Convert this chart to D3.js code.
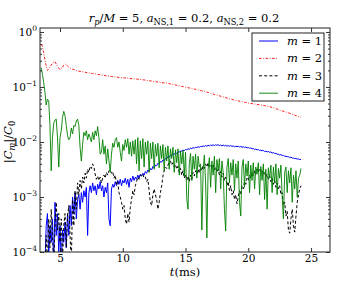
<!DOCTYPE html>
<html>
<head>
<meta charset="utf-8">
<script src="https://cdn.jsdelivr.net/npm/d3@7"></script>
<style>
body { margin: 0; background: #fff; }
</style>
</head>
<body>
<div class="chart"></div>
<script>
// sampling of the m=1,3,4 curves (ms)
const tStep = 0.1;
const m4Start = 3.5;
const m4 = [
 0.225,0.17,0.12,0.08,0.047,0.06,0.055,0.02,0.003,0.012,0.022,0.025,0.026,0.012,0.0035,
 0.012,0.016,0.028,0.036,0.03,0.02,0.013,0.011,0.012,0.018,
 0.014,0.02,0.019,0.024,0.026,0.02,0.008,0.0045,0.009,0.015,
 0.013,0.016,0.011,0.014,0.012,0.01,0.015,0.011,0.016,0.013,
 0.019,0.012,0.006,0.0065,0.011,0.006,0.0085,0.004,0.0075,0.0045,
 0.0028,0.006,0.0095,0.008,0.011,0.012,0.008,0.01,0.0065,0.0045,
 0.009,0.007,0.011,0.008,0.0115,0.006,0.01,0.0055,0.0105,0.006,
 0.011,0.004,0.012,0.003,0.0105,0.005,0.0115,0.0035,0.01,0.006,
 0.0105,0.0028,0.0095,0.005,0.01,0.0032,0.009,0.0055,0.0095,0.0034,
 0.0085,0.005,0.009,0.003,0.008,0.0045,0.0085,0.0032,0.0075,0.005,
 0.008,0.0028,0.0072,0.0042,0.0075,0.0025,0.0068,0.004,0.007,0.0024,
 0.0065,0.0009,0.0006,0.004,0.0062,0.002,0.0055,0.0032,0.006,0.0022,
 0.0055,0.0035,0.004,0.00025,0.003,0.0058,0.0018,0.00018,0.0032,0.0052,
 0.0015,0.0045,0.0025,0.0055,0.0012,0.0048,0.003,0.005,0.0014,0.0045,
 0.0028,0.0006,0.00024,0.0035,0.005,0.0018,0.0042,0.0025,0.0048,0.0013,
 0.004,0.0022,0.0045,0.0008,0.00045,0.0035,0.0048,0.0015,0.004,0.0024,
 0.0045,0.0012,0.0038,0.002,0.0042,0.0014,0.0035,0.0026,0.0042,0.0011,
 0.0036,0.002,0.004,0.0009,0.0032,0.0006,0.0034,0.0022,0.0038,0.0012,
 0.0035,0.0018,0.004,0.0011,0.0033,0.0022,0.0038,0.001,0.0004,0.0028,
 0.0035,0.0012,0.003,0.0018,0.0034,0.0008,0.0025,0.0014,0.003,0.001,
 0.0022,0.0025,0.0033
];

const m1Start = 3.8;
const m1 = [
 6e-5,3e-4,
 5e-4,8e-5,3e-4,1.5e-4,4e-4,6e-5,8e-4,2e-4,5e-4,1e-4,
 3e-4,6e-5,2.5e-4,1.5e-4,3.5e-4,1.2e-4,5e-4,2e-4,7e-4,3e-4,
 1e-3,5e-4,1.2e-3,4e-4,9e-4,1.1e-3,6e-4,1.2e-3,8e-4,1.3e-3,
 1e-3,1.5e-3,2e-4,1.2e-3,1.6e-3,1.2e-3,1.8e-3,1.3e-3,1.6e-3,1.1e-3,
 1.7e-3,1.4e-3,1.9e-3,1.3e-3,1.6e-3,1e-3,1.5e-3,1.2e-3,1.8e-3,4e-4,
 3e-4,1.4e-3,1.7e-3,1.5e-3,1.9e-3,1.6e-3,2e-3,1.7e-3,2.1e-3,1.6e-3,
 2e-3,1.8e-3,2.2e-3,1.7e-3,2.1e-3,1.5e-3,2.2e-3,1.9e-3,2.4e-3,2e-3,
 2.3e-3,2.1e-3,2.5e-3,2.2e-3,2.6e-3,2.4e-3,2.7e-3,2.5e-3,2.9e-3,2.7e-3,
 3.1e-3,2.9e-3,3.3e-3,3.1e-3,3.6e-3,3.4e-3,3.8e-3,3.7e-3,4.1e-3,4e-3,
 4.4e-3,4.3e-3,4.7e-3,4.6e-3,5e-3,5e-3,5.4e-3,5.3e-3,5.7e-3,5.7e-3,
 6e-3,6e-3,6.3e-3,6.2e-3,6.6e-3,6.5e-3,6.9e-3,6.8e-3,7.1e-3,7e-3,
 7.3e-3,7.2e-3,7.5e-3,7.4e-3,7.7e-3,7.6e-3,7.9e-3,7.7e-3,8e-3,7.9e-3,
 8.2e-3,8e-3,8.3e-3,8.2e-3,8.5e-3,8.3e-3,8.6e-3,8.4e-3,8.7e-3,8.5e-3,
 8.8e-3,8.6e-3,8.9e-3,8.6e-3,8.9e-3,8.7e-3,8.9e-3,8.6e-3,8.8e-3,8.5e-3,
 8.8e-3,8.5e-3,8.7e-3,8.4e-3,8.6e-3,8.4e-3,8.6e-3,8.3e-3,8.5e-3,8.2e-3,
 8.4e-3,8.2e-3,8.4e-3,8.1e-3,8.3e-3,8e-3,8.2e-3,7.9e-3,8.1e-3,7.8e-3,
 7.9e-3,7.7e-3,7.8e-3,7.5e-3,7.6e-3,7.3e-3,7.4e-3,7.2e-3,7.3e-3,7e-3,
 7.1e-3,6.9e-3,7e-3,6.7e-3,6.8e-3,6.6e-3,6.7e-3,6.5e-3,6.6e-3,6.3e-3,
 6.4e-3,6.2e-3,6.2e-3,6e-3,6e-3,5.8e-3,5.9e-3,5.7e-3,5.7e-3,5.5e-3,
 5.5e-3,5.4e-3,5.4e-3,5.2e-3,5.3e-3,5.1e-3,5.1e-3,5e-3,5e-3,4.9e-3,
 4.9e-3,4.8e-3,4.8e-3
];

const m3Start = 3.8;
const m3 = [
 5e-5,2e-4,
 6e-5,4e-4,1.2e-4,6e-4,2e-4,5e-5,3e-4,8e-4,2.5e-4,5e-4,
 1.5e-4,4e-4,7e-5,3e-4,5e-4,1.2e-4,4.5e-4,7e-4,2e-4,6e-5,
 9e-4,3e-4,1.3e-3,6e-4,1.8e-3,1.1e-3,2e-3,1.4e-3,2.3e-3,1.8e-3,
 2.7e-3,2.2e-3,3.2e-3,2.8e-3,3.6e-3,3.3e-3,4e-3,3.5e-3,2.6e-3,2.1e-3,
 2.4e-3,2e-3,2.3e-3,1.8e-3,2.2e-3,2.5e-3,2.2e-3,2.8e-3,2.5e-3,3e-3,
 3.1e-3,2.7e-3,2.9e-3,2.2e-3,2.5e-3,1.7e-3,1.9e-3,1.2e-3,1e-3,8e-4,
 6e-4,7e-4,4e-4,3.2e-4,5e-4,3.5e-4,6.5e-4,9e-4,1.3e-3,1.1e-3,
 1.6e-3,1.9e-3,2.3e-3,2.1e-3,2.5e-3,2.4e-3,2.6e-3,2.2e-3,2.3e-3,1.9e-3,
 2.1e-3,1.3e-3,8e-4,7e-4,1.1e-3,1.4e-3,1.1e-3,9e-4,6e-4,8e-4,
 1.2e-3,1.6e-3,2.4e-3,3e-3,3.5e-3,3.3e-3,3.8e-3,4.3e-3,4.5e-3,3.8e-3,
 4.2e-3,3.5e-3,3.9e-3,3.2e-3,3.6e-3,2.8e-3,3.3e-3,2.5e-3,3e-3,2.2e-3,
 2.6e-3,2e-3,2.4e-3,1.9e-3,2.5e-3,2.1e-3,2.8e-3,2.4e-3,3e-3,2.6e-3,
 3.2e-3,2.7e-3,3.5e-3,3e-3,3.7e-3,3.3e-3,4e-3,3.5e-3,4.2e-3,3.6e-3,
 3.9e-3,3.4e-3,3.8e-3,3.1e-3,3.5e-3,2.8e-3,3.2e-3,2.5e-3,2.9e-3,2.3e-3,
 2.7e-3,2e-3,2.3e-3,1.6e-3,1.9e-3,1.3e-3,1.6e-3,1.1e-3,1.3e-3,9e-4,
 1.1e-3,7.5e-4,1e-3,1.3e-3,1.1e-3,1.6e-3,1.4e-3,1.9e-3,1.7e-3,2.2e-3,
 2e-3,2.5e-3,2.2e-3,2.8e-3,2.4e-3,3e-3,2.6e-3,3.2e-3,2.8e-3,3.3e-3,
 2.9e-3,3.1e-3,2.6e-3,2.8e-3,2.3e-3,2.6e-3,2.1e-3,2.4e-3,1.9e-3,2.2e-3,
 1.7e-3,2e-3,1.5e-3,1.8e-3,1.4e-3,1.6e-3,1.1e-3,1.2e-3,7e-4,8e-4,
 4.5e-4,5.5e-4,2.5e-4,2.2e-4,4e-4,6e-4,3e-4,2.3e-4,4.5e-4,8e-4,
 1.1e-3,1.4e-3,1.6e-3
];

// m=2 is smooth, read at its own times
const m2T = [3.55,3.7,3.85,4.0,4.15,4.3,4.45,4.6,4.75,4.9,5.0,5.15,5.3,5.45,5.6,5.8,6.0,6.2,6.4,6.7,
 7.0,7.3,7.6,8.0,8.3,8.7,9.1,9.5,10.0,10.5,11.0,11.5,12.0,12.5,13.0,13.5,14.0,14.5,15.0,15.5,
 16.0,16.5,17.0,17.5,18.0,18.5,19.0,19.5,20.0,20.5,21.0,21.5,22.0,22.5,23.0,23.5,24.0,24.2];
const m2 = [0.6,0.42,0.27,0.2,0.22,0.25,0.28,0.29,0.25,0.22,0.205,0.22,0.25,0.26,0.24,0.22,0.21,0.205,0.195,0.19,
 0.185,0.18,0.176,0.17,0.165,0.16,0.155,0.151,0.147,0.143,0.14,0.136,0.131,0.126,0.121,0.117,0.111,0.105,0.099,0.094,
 0.088,0.083,0.077,0.071,0.066,0.061,0.057,0.054,0.051,0.049,0.047,0.045,0.042,0.038,0.035,0.032,0.029,0.028];

const xTicks = [5, 10, 15, 20, 25];
const yExps = [0, -1, -2, -3, -4];
const legendLabels = ["1", "2", "3", "4"];

const FONT = "DejaVu Serif";
const W = 349, H = 281;
const L = 40, R = 330, T = 28, B = 252;

const svg = d3.select(".chart").append("svg")
  .attr("width", W).attr("height", H)
  .style("font-family", FONT);

const x = d3.scaleLinear().domain([3.406, 26.51]).range([L, R]);
const y = d3.scaleLog().domain([1e-4, 1.18]).range([B, T]);

const uniform = (vals, t0) => vals.map((v, i) => ({t: t0 + i * tStep, v: v}));
const series = [
  {pts: uniform(m1, m1Start), color: "#0000ff", w: 1, dash: null},
  {pts: m2T.map((t, i) => ({t: t, v: m2[i]})), color: "#ff0000", w: 0.9, dash: "2.5,1.6,0.8,1.6"},
  {pts: uniform(m3, m3Start), color: "#000000", w: 1, dash: "3,2.2"},
  {pts: uniform(m4, m4Start), color: "#008000", w: 0.9, dash: null}
];

svg.append("clipPath").attr("id", "clip")
  .append("rect").attr("x", L).attr("y", T).attr("width", R - L).attr("height", B - T);

const line = d3.line().x(d => x(d.t)).y(d => y(d.v));

svg.append("g").attr("clip-path", "url(#clip)")
  .selectAll("path").data(series).enter().append("path")
  .attr("d", d => line(d.pts))
  .attr("fill", "none")
  .attr("stroke", d => d.color)
  .attr("stroke-width", d => d.w)
  .attr("stroke-dasharray", d => d.dash)
  .attr("stroke-linejoin", "round");

// ticks, inward on all four sides
const minor = [];
yExps.slice(1).forEach(e => { for (let k = 2; k <= 9; k++) minor.push(k * Math.pow(10, e)); });
const major = yExps.map(e => Math.pow(10, e));

function styleAxis(g) {
  g.attr("font-family", null);
  g.select(".domain").remove();
  g.selectAll("line").attr("stroke", "#000").attr("stroke-width", 0.8);
}
svg.append("g").attr("transform", `translate(0,${B})`)
  .call(d3.axisBottom(x).tickValues(xTicks).tickSize(-4).tickPadding(3).tickFormat(d3.format("d")))
  .call(styleAxis)
  .selectAll("text").attr("font-size", 10.5).style("font-family", FONT);
svg.append("g").attr("transform", `translate(0,${T})`)
  .call(d3.axisTop(x).tickValues(xTicks).tickSize(-4).tickFormat(""))
  .call(styleAxis);
[[d3.axisLeft, L], [d3.axisRight, R]].forEach(([ax, px]) => {
  svg.append("g").attr("transform", `translate(${px},0)`)
    .call(ax(y).tickValues(major).tickSize(-4).tickFormat(""))
    .call(styleAxis);
  svg.append("g").attr("transform", `translate(${px},0)`)
    .call(ax(y).tickValues(minor).tickSize(-2).tickFormat(""))
    .call(styleAxis);
});

// y tick labels 10^n
yExps.forEach(e => {
  const t = svg.append("text").attr("x", 37).attr("y", y(Math.pow(10, e)) + 4)
    .attr("text-anchor", "end").attr("font-size", 10.5).style("font-family", FONT);
  t.append("tspan").text("10");
  t.append("tspan").attr("dy", -5).attr("font-size", 7.5).text(e === 0 ? "0" : "\u2212" + (-e));
});

svg.append("rect").attr("x", L).attr("y", T).attr("width", R - L).attr("height", B - T)
  .attr("fill", "none").attr("stroke", "#222").attr("stroke-width", 1);

// math-like text: [string, kind] with kind i=italic, s=sub roman, si=sub italic
function mathText(t, parts, fs) {
  t.style("font-family", FONT).attr("font-size", fs);
  let shifted = false;
  parts.forEach(([s, k]) => {
    const sp = t.append("tspan").text(s);
    const sub = k === "s" || k === "si";
    if (k === "i" || k === "si") sp.attr("font-style", "italic");
    if (sub && !shifted) { sp.attr("dy", fs * 0.25).attr("font-size", fs * 0.72); shifted = true; }
    else if (sub) sp.attr("font-size", fs * 0.72);
    if (!sub && shifted) { sp.attr("dy", -fs * 0.25); shifted = false; }
  });
}

mathText(svg.append("text").attr("x", 184).attr("y", 22).attr("text-anchor", "middle"),
  [["r", "i"], ["p", "si"], ["/", ""], ["M", "i"], [" = 5, ", ""], ["a", "i"], ["NS,1", "s"],
   [" = 0.2, ", ""], ["a", "i"], ["NS,2", "s"], [" = 0.2", ""]], 11.5);

mathText(svg.append("text").attr("x", 185).attr("y", 276).attr("text-anchor", "middle"),
  [["t", "i"], ["(ms)", ""]], 11.5);

mathText(svg.append("text").attr("transform", "translate(12,142) rotate(-90)")
  .attr("text-anchor", "middle"),
  [["|", ""], ["C", "i"], ["m", "si"], ["|/", ""], ["C", "i"], ["0", "s"]], 11.5);

// legend
const lg = svg.append("g");
lg.append("rect").attr("x", 252).attr("y", 33).attr("width", 72).attr("height", 68)
  .attr("fill", "#fff").attr("stroke", "#222").attr("stroke-width", 1);
series.forEach((s, i) => {
  const yy = 41 + i * 17.4;
  lg.append("line").attr("x1", 259).attr("x2", 278).attr("y1", yy).attr("y2", yy)
    .attr("stroke", s.color).attr("stroke-width", s.w).attr("stroke-dasharray", s.dash);
  mathText(lg.append("text").attr("x", 287).attr("y", yy + 4),
    [["m", "i"], [" = " + legendLabels[i], ""]], 11.5);
});
</script>
</body>
</html>
